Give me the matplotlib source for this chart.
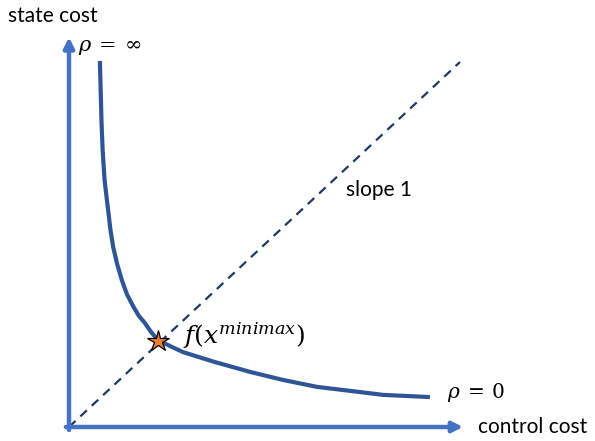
import numpy as np
import matplotlib
matplotlib.use('Agg')
import matplotlib.pyplot as plt

plt.rcParams['font.family'] = ['Lato', 'DejaVu Sans']
plt.rcParams['mathtext.fontset'] = 'dejavuserif'

# Curva de frontera (costo de control vs costo de estado)
curva_x = [0.079, 0.081, 0.083, 0.086, 0.091, 0.096, 0.101, 0.106, 0.113,
           0.123, 0.135, 0.148, 0.165, 0.179, 0.194, 0.210, 0.228, 0.258,
           0.292, 0.373, 0.463, 0.547, 0.634, 0.719, 0.803, 0.923]
curva_y = [1.003, 0.923, 0.841, 0.759, 0.677, 0.630, 0.586, 0.540, 0.493,
           0.447, 0.403, 0.364, 0.329, 0.304, 0.285, 0.260, 0.238, 0.222,
           0.205, 0.178, 0.151, 0.129, 0.110, 0.099, 0.088, 0.082]

# Recta de pendiente 1 y punto minimax
recta_x = [0.0, 1.0]
recta_y = [0.0, 1.0]
minimax = (0.228, 0.236)

azul_ejes = '#4472C4'
azul_curva = '#2F5597'
azul_recta = '#1F3864'

fig = plt.figure(figsize=(5.95, 4.41), dpi=100)
ax = fig.add_axes([0, 0, 1, 1])
ax.set_xlim(-69/391, (595-69)/391)
ax.set_ylim(-14/365, 427/365)
ax.axis('off')

# Ejes con flecha
ax.annotate('', xy=(0, 1.068), xytext=(0, -0.008),
            arrowprops=dict(arrowstyle='-|>,head_length=0.6,head_width=0.3',
                            color=azul_ejes, lw=3.2, shrinkA=0, shrinkB=0))
ax.annotate('', xy=(1.008, 0), xytext=(-0.008, 0),
            arrowprops=dict(arrowstyle='-|>,head_length=0.6,head_width=0.3',
                            color=azul_ejes, lw=3.2, shrinkA=0, shrinkB=0))

ax.plot(recta_x, recta_y, '--', color=azul_recta, lw=1.6, dashes=(4, 3))
ax.plot(curva_x, curva_y, '-', color=azul_curva, lw=3,
        solid_capstyle='butt', solid_joinstyle='round')
ax.plot(minimax[0], minimax[1], '*', color='#ED7D31', markersize=16,
        markeredgecolor='black', markeredgewidth=0.9)

ax.text(-0.156, 1.126, 'state cost', fontsize=15, va='center', ha='left')
ax.text(1.046, 0.0, 'control cost', fontsize=15, va='center', ha='left')
ax.text(0.708, 0.649, 'slope 1', fontsize=15, va='center', ha='left')
ax.text(0.023, 1.04, r'$\rho\:=\:\infty$', fontsize=15, va='center', ha='left')
ax.text(0.968, 0.095, r'$\rho\:=\:0$', fontsize=14.5, va='center', ha='left')
ax.text(0.292, 0.25, r'$f(x^{minimax})$', fontsize=18, va='center', ha='left')

plt.savefig('out.png', dpi=100)
